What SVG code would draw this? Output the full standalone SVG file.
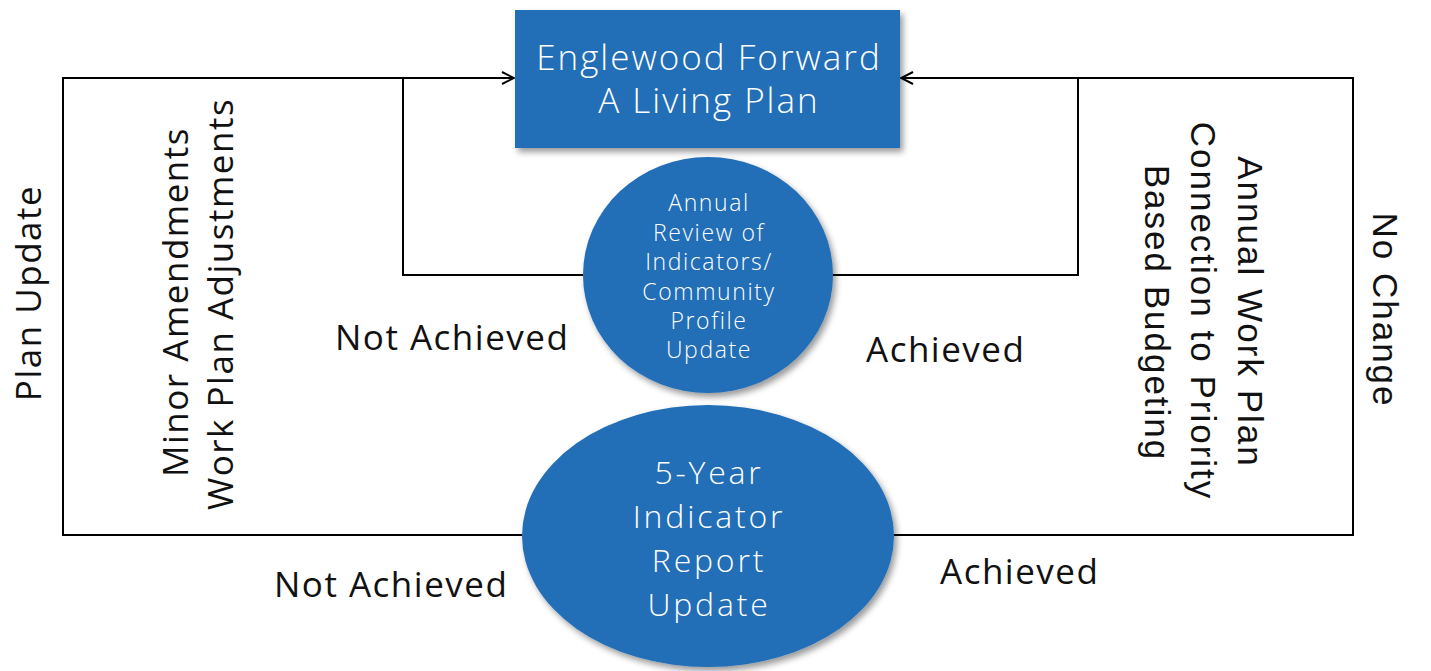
<svg xmlns="http://www.w3.org/2000/svg" width="1431" height="671" viewBox="0 0 1431 671">
<style>
.ln{fill:none;stroke:#000;stroke-width:2}
.node{fill:#206EB7;filter:url(#sh)}
.wt{fill:#fff;font-family:"Open Sans","Liberation Sans",sans-serif;font-weight:300;text-anchor:middle}
.lb{fill:#111;font-family:"Open Sans","Liberation Sans",sans-serif;font-weight:400;font-size:35px;letter-spacing:1.5px}
.ar{fill:#111;font-family:"Liberation Sans",Arial,sans-serif;font-size:35px;letter-spacing:2px;text-anchor:middle}
</style>
<defs>
<filter id="sh" x="-10%" y="-10%" width="125%" height="125%">
<feDropShadow dx="3" dy="4" stdDeviation="3" flood-color="#000" flood-opacity="0.4"/>
</filter>
<marker id="arr" viewBox="0 0 14 14" refX="13" refY="7" markerWidth="14" markerHeight="14" markerUnits="userSpaceOnUse" orient="auto">
<path d="M1,1 L13,7 L1,13" fill="none" stroke="#000" stroke-width="2"/>
</marker>
</defs>
<g id="connectors">
<path class="ln" d="M522,535 H63 V78 H514" marker-end="url(#arr)"/>
<path class="ln" d="M583,275 H403 V78"/>
<path class="ln" d="M894,535 H1353 V78 H901" marker-end="url(#arr)"/>
<path class="ln" d="M833,275 H1078 V78"/>
</g>
<g id="plan">
<rect class="node" x="515" y="10" width="385" height="138"/>
<text class="wt" font-size="35" letter-spacing="2"><tspan x="709" y="70">Englewood Forward</tspan><tspan x="709" y="113">A Living Plan</tspan></text>
</g>
<g id="annual-review">
<ellipse class="node" cx="708" cy="275" rx="125" ry="118"/>
<text class="wt" font-size="23" letter-spacing="1.6"><tspan x="709" y="211">Annual</tspan><tspan x="709" y="241">Review of</tspan><tspan x="709" y="270">Indicators/</tspan><tspan x="709" y="300">Community</tspan><tspan x="709" y="329">Profile</tspan><tspan x="709" y="358">Update</tspan></text>
</g>
<g id="five-year">
<ellipse class="node" cx="708" cy="536" rx="186" ry="131"/>
<text class="wt" font-size="32" letter-spacing="2.8"><tspan x="709" y="484">5-Year</tspan><tspan x="709" y="528">Indicator</tspan><tspan x="709" y="572">Report</tspan><tspan x="709" y="616">Update</tspan></text>
</g>
<g id="labels">
<text class="lb" x="335" y="350">Not Achieved</text>
<text class="lb" x="866" y="362">Achieved</text>
<text class="lb" x="274" y="597">Not Achieved</text>
<text class="lb" x="940" y="584">Achieved</text>
<text class="lb" text-anchor="middle" transform="translate(41,293) rotate(-90)">Plan Update</text>
<text class="lb" text-anchor="middle" transform="translate(188,302) rotate(-90)">Minor Amendments</text>
<text class="lb" text-anchor="middle" transform="translate(233,304) rotate(-90)">Work Plan Adjustments</text>
<text class="ar" transform="translate(1238,312) rotate(90)">Annual Work Plan</text>
<text class="ar" transform="translate(1191,311) rotate(90)">Connection to Priority</text>
<text class="ar" transform="translate(1145,313) rotate(90)">Based Budgeting</text>
<text class="ar" transform="translate(1373,310) rotate(90)">No Change</text>
</g>
</svg>
